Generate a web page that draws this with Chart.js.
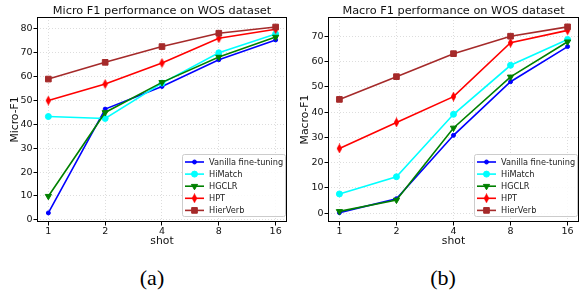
<!DOCTYPE html>
<html>
<head>
<meta charset="utf-8">
<script src="https://cdn.jsdelivr.net/npm/chart.js@4.4.1/dist/chart.umd.min.js"></script>
<style>
  html, body { margin: 0; padding: 0; background: #fff; }
  #wrap { position: relative; width: 584px; height: 295px; overflow: hidden; }
  canvas { position: absolute; top: 0; }
  .cap { position: absolute; font-family: "Liberation Serif", "DejaVu Serif", serif; font-size: 22px; color: #000; transform: translateX(-50%); line-height: 1; }
</style>
</head>
<body>
<div id="wrap">
  <canvas id="c1" width="292" height="255" style="left:0px"></canvas>
  <canvas id="c2" width="292" height="255" style="left:292px"></canvas>
  <div class="cap" style="left:152px; top:267px;">(a)</div>
  <div class="cap" style="left:443px; top:267px;">(b)</div>
</div>
<script>
// ---- data ----
const shots = [1, 2, 4, 8, 16];
const seriesNames = ["Vanilla fine-tuning", "HiMatch", "HGCLR", "HPT", "HierVerb"];
const microVanilla  = [2.9, 46.4, 55.9, 67.1, 75.4];
const microHiMatch  = [43.3, 42.5, 57.3, 70.0, 77.9];
const microHGCLR    = [9.9, 45.0, 57.6, 68.2, 76.6];
const microHPT      = [50.0, 56.9, 65.7, 76.1, 79.9];
const microHierVerb = [59.0, 66.0, 72.6, 78.2, 80.8];
const macroVanilla  = [0.2, 5.7, 30.8, 52.0, 65.9];
const macroHiMatch  = [7.6, 14.4, 39.1, 58.5, 68.7];
const macroHGCLR    = [0.7, 5.2, 33.7, 53.9, 67.8];
const macroHPT      = [25.6, 35.9, 46.1, 67.4, 72.3];
const macroHierVerb = [45.0, 54.0, 63.1, 70.0, 73.7];
const yTicksMicro = [0, 10, 20, 30, 40, 50, 60, 70, 80];
const yTicksMacro = [0, 10, 20, 30, 40, 50, 60, 70];

// ---- styles ----
function thinDiamond(color) {
  const c = document.createElement('canvas');
  c.width = 7; c.height = 10;
  const g = c.getContext('2d');
  g.fillStyle = color;
  g.beginPath();
  g.moveTo(3.5, 0); g.lineTo(6.2, 5); g.lineTo(3.5, 10); g.lineTo(0.8, 5); g.closePath();
  g.fill();
  return c;
}
const styles = [
  { color: '#0000ff', pointStyle: 'circle', radius: 2, rotation: 0 },
  { color: '#00ffff', pointStyle: 'circle', radius: 3, rotation: 0 },
  { color: '#008000', pointStyle: 'triangle', radius: 3.6, rotation: 180 },
  { color: '#ff0000', pointStyle: thinDiamond('#ff0000'), radius: 4, rotation: 0 },
  { color: '#a52a2a', pointStyle: 'rect', radius: 4, rotation: 0 }
];

function makeDatasets(seriesList) {
  return seriesList.map((vals, i) => ({
    label: seriesNames[i],
    data: shots.map((s, j) => ({ x: s, y: vals[j] })),
    borderColor: styles[i].color,
    backgroundColor: styles[i].color,
    pointBackgroundColor: styles[i].color,
    pointBorderColor: styles[i].color,
    pointBorderWidth: 1,
    pointStyle: styles[i].pointStyle,
    pointRadius: styles[i].radius,
    pointRotation: styles[i].rotation,
    borderWidth: 1.6,
    tension: 0,
    order: seriesList.length - 1 - i
  }));
}

function drawMarker(ctx, st, x, y) {
  ctx.save();
  ctx.fillStyle = st.color; ctx.strokeStyle = st.color; ctx.lineWidth = 1;
  if (typeof st.pointStyle === 'object') {
    ctx.drawImage(st.pointStyle, x - st.pointStyle.width / 2, y - st.pointStyle.height / 2);
  } else if (Chart.helpers && Chart.helpers.drawPoint) {
    Chart.helpers.drawPoint(ctx, { pointStyle: st.pointStyle, rotation: st.rotation, radius: st.radius, borderWidth: 1 }, x, y);
  }
  ctx.restore();
}

const framePlugin = {
  id: 'frame',
  afterDatasetsDraw(chart) {
    const a = chart.chartArea, ctx = chart.ctx;
    ctx.save();
    ctx.strokeStyle = '#000'; ctx.lineWidth = 1;
    ctx.strokeRect(Math.round(a.left) + 0.5, Math.round(a.top) + 0.5, Math.round(a.right - a.left) - 1, Math.round(a.bottom - a.top) - 1);
    ctx.restore();
  }
};

const titlePlugin = {
  id: 'areaTitle',
  afterDraw(chart, args, opts) {
    const a = chart.chartArea, ctx = chart.ctx;
    ctx.save();
    ctx.font = '11.3px "DejaVu Sans"';
    ctx.fillStyle = '#111';
    ctx.textAlign = 'center';
    ctx.textBaseline = 'middle';
    ctx.fillText(opts.text, (a.left + a.right) / 2, 11);
    ctx.restore();
  }
};

const legendPlugin = {
  id: 'boxLegend',
  afterDraw(chart) {
    const a = chart.chartArea, ctx = chart.ctx;
    const w = 103, h = 62;
    const x = a.right - 2 - w, y = a.bottom - 6 - h;
    ctx.save();
    ctx.beginPath();
    ctx.roundRect(x + 0.5, y + 0.5, w, h, 2);
    ctx.fillStyle = 'rgba(255,255,255,0.85)';
    ctx.fill();
    ctx.strokeStyle = '#cccccc'; ctx.lineWidth = 1;
    ctx.stroke();
    ctx.font = '8.2px "DejaVu Sans"';
    ctx.textBaseline = 'middle';
    ctx.textAlign = 'left';
    seriesNames.forEach((name, i) => {
      const cy = y + 8 + i * 12.1;
      const st = styles[i];
      ctx.strokeStyle = st.color; ctx.lineWidth = 1.6;
      ctx.beginPath(); ctx.moveTo(x + 3, cy); ctx.lineTo(x + 22, cy); ctx.stroke();
      drawMarker(ctx, st, x + 12.5, cy);
      ctx.fillStyle = '#222';
      ctx.fillText(name, x + 27, cy + 0.5);
    });
    ctx.restore();
  }
};

function makeChart(id, title, yLabel, seriesList, yTicks, yMin, yMax, yAxisWidth, rightPad, yTitlePad) {
  return new Chart(document.getElementById(id), {
    type: 'line',
    data: { datasets: makeDatasets(seriesList) },
    plugins: [framePlugin, legendPlugin, titlePlugin],
    options: {
      responsive: false,
      animation: false,
      devicePixelRatio: 1,
      layout: { padding: { left: 0, right: rightPad, top: 17, bottom: 0 } },
      plugins: {
        legend: { display: false },
        tooltip: { enabled: false },
        title: { display: false },
        areaTitle: { text: title }
      },
      scales: {
        x: {
          type: 'logarithmic',
          min: Math.pow(2, -0.2), max: Math.pow(2, 4.2),
          afterBuildTicks: s => { s.ticks = shots.map(v => ({ value: v })); },
          afterFit: s => { s.height = 33; },
          ticks: {
            color: '#111', padding: 0, autoSkip: false, maxRotation: 0,
            font: { family: 'DejaVu Sans', size: 9.5 },
            callback: v => String(v)
          },
          grid: { color: '#d4d4d4', lineWidth: 0.8, tickColor: '#000', tickLength: 3.5, tickWidth: 1, tickBorderDash: [] },
          border: { display: false, dash: [1, 2] },
          title: { display: true, text: 'shot', color: '#111', font: { family: 'DejaVu Sans', size: 10.8, lineHeight: '12px' }, padding: { top: 0, bottom: 8 } }
        },
        y: {
          min: yMin, max: yMax,
          afterBuildTicks: s => { s.ticks = yTicks.map(v => ({ value: v })); },
          afterFit: s => { s.width = yAxisWidth; },
          ticks: { color: '#111', padding: 1, font: { family: 'DejaVu Sans', size: 9.5 } },
          grid: { color: '#d4d4d4', lineWidth: 0.8, tickColor: '#000', tickLength: 3.5, tickWidth: 1, tickBorderDash: [] },
          border: { display: false, dash: [1, 2] },
          title: { display: true, text: yLabel, color: '#111', font: { family: 'DejaVu Sans', size: 10.8, lineHeight: '12px' }, padding: { top: yTitlePad, bottom: 0 } }
        }
      }
    }
  });
}

makeChart('c1', 'Micro F1 performance on WOS dataset', 'Micro-F1',
  [microVanilla, microHiMatch, microHGCLR, microHPT, microHierVerb], yTicksMicro, -0.9, 85.0, 37, 2, 9);
makeChart('c2', 'Macro F1 performance on WOS dataset', 'Macro-F1',
  [macroVanilla, macroHiMatch, macroHGCLR, macroHPT, macroHierVerb], yTicksMacro, -3.5, 77.6, 36, 4, 7);
</script>
</body>
</html>
